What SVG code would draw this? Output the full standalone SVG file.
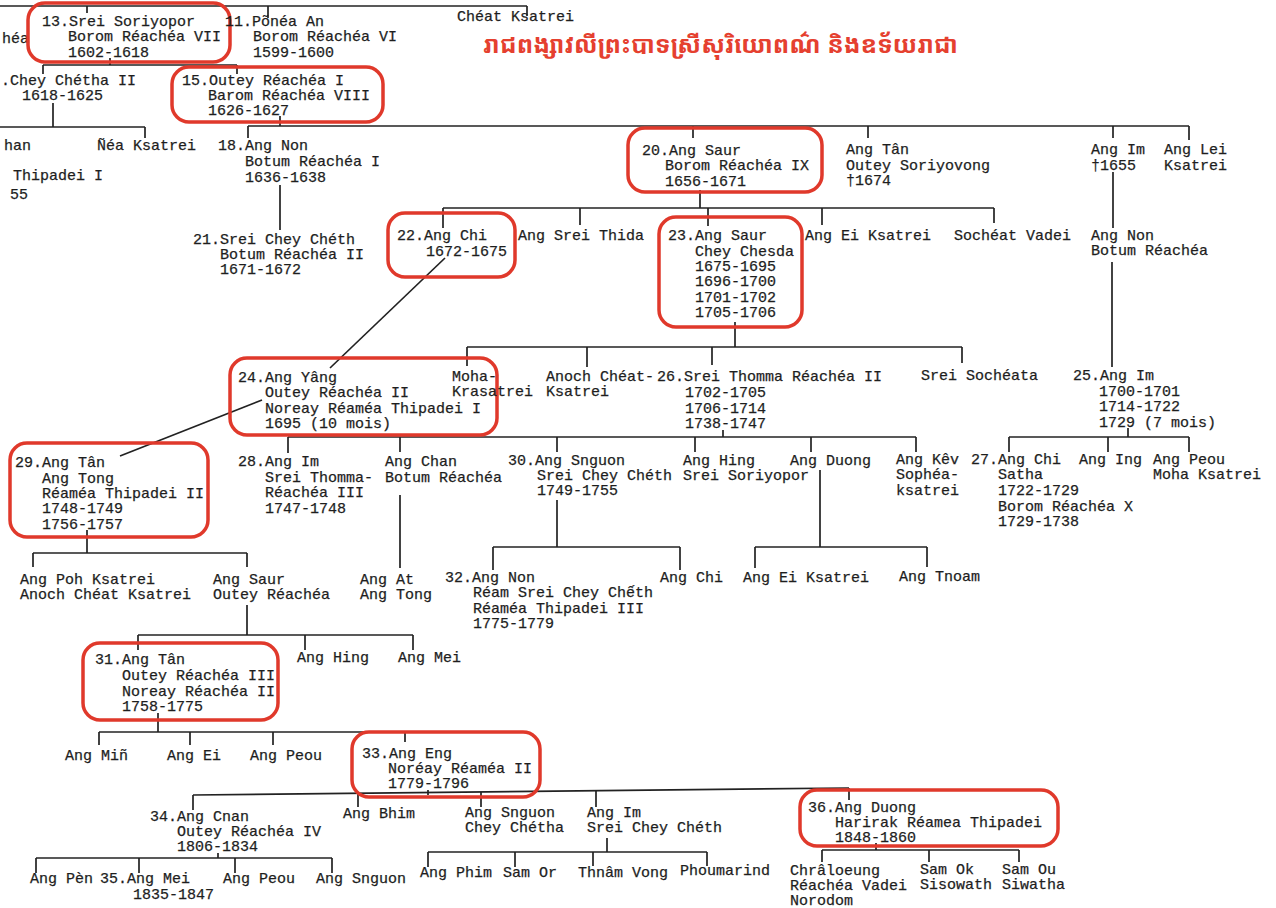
<svg xmlns="http://www.w3.org/2000/svg" width="1276" height="908" viewBox="0 0 1276 908">
<style>
.t{font-family:"Liberation Mono","DejaVu Sans Mono",monospace;font-size:15px;fill:#1e1e1e;stroke:#1e1e1e;stroke-width:0.25}
.b{fill:none;stroke:#e0392b;stroke-width:3.5}
.c line{stroke:#222;stroke-width:1.7}
.title{font-family:"Noto Sans Khmer","Noto Serif Khmer","Khmer OS","Khmer OS System",sans-serif;font-size:24px;fill:#e5402f;font-weight:bold}
</style>
<rect width="1276" height="908" fill="#fff"/>
<g class="c" id="connectors">
<line x1="0" y1="6" x2="527" y2="6"/><line x1="87" y1="6" x2="87" y2="13"/><line x1="268" y1="6" x2="268" y2="18"/><line x1="527" y1="6" x2="527" y2="16"/>
<line x1="110" y1="58" x2="110" y2="65"/><line x1="43" y1="65" x2="237" y2="65"/><line x1="43" y1="65" x2="43" y2="74"/><line x1="237" y1="65" x2="237" y2="74"/>
<line x1="53" y1="103" x2="53" y2="127"/><line x1="0" y1="127" x2="145" y2="127"/><line x1="145" y1="127" x2="145" y2="138"/>
<line x1="280" y1="116" x2="280" y2="126"/><line x1="248" y1="126" x2="1189" y2="126"/><line x1="248" y1="126" x2="248" y2="138"/><line x1="693" y1="126" x2="693" y2="138"/><line x1="868" y1="126" x2="868" y2="138"/><line x1="1113" y1="126" x2="1113" y2="138"/><line x1="1189" y1="126" x2="1189" y2="140"/>
<line x1="280" y1="185" x2="280" y2="230"/>
<line x1="700" y1="190" x2="700" y2="208"/><line x1="443" y1="208" x2="994" y2="208"/><line x1="443" y1="208" x2="443" y2="228"/><line x1="580" y1="208" x2="580" y2="225"/><line x1="708" y1="208" x2="708" y2="226"/><line x1="822" y1="208" x2="822" y2="225"/><line x1="994" y1="208" x2="994" y2="223"/>
<line x1="1113" y1="172" x2="1113" y2="228"/><line x1="1112" y1="262" x2="1112" y2="367"/>
<line x1="445" y1="258" x2="330" y2="368"/>
<line x1="735" y1="322" x2="735" y2="347"/><line x1="467" y1="347" x2="962" y2="347"/><line x1="467" y1="347" x2="467" y2="366"/><line x1="587" y1="347" x2="587" y2="367"/><line x1="712" y1="347" x2="712" y2="365"/><line x1="962" y1="347" x2="962" y2="363"/>
<line x1="262" y1="400" x2="120" y2="456"/>
<line x1="723" y1="430" x2="723" y2="437"/><line x1="288" y1="437" x2="916" y2="437"/><line x1="288" y1="437" x2="288" y2="453"/><line x1="400" y1="437" x2="400" y2="452"/><line x1="557" y1="437" x2="557" y2="452"/><line x1="695" y1="437" x2="695" y2="452"/><line x1="811" y1="437" x2="811" y2="452"/><line x1="916" y1="437" x2="916" y2="452"/>
<line x1="1128" y1="428" x2="1128" y2="437"/><line x1="1009" y1="437" x2="1189" y2="437"/><line x1="1009" y1="437" x2="1009" y2="452"/><line x1="1108" y1="437" x2="1108" y2="452"/><line x1="1189" y1="437" x2="1189" y2="452"/>
<line x1="400" y1="495" x2="400" y2="568"/>
<line x1="557" y1="500" x2="557" y2="547"/><line x1="493" y1="547" x2="680" y2="547"/><line x1="493" y1="547" x2="493" y2="570"/><line x1="680" y1="547" x2="680" y2="570"/>
<line x1="820" y1="470" x2="820" y2="547"/><line x1="755" y1="547" x2="927" y2="547"/><line x1="755" y1="547" x2="755" y2="568"/><line x1="927" y1="547" x2="927" y2="567"/>
<line x1="87" y1="530" x2="87" y2="553"/><line x1="33" y1="553" x2="247" y2="553"/><line x1="33" y1="553" x2="33" y2="567"/><line x1="247" y1="553" x2="247" y2="567"/>
<line x1="247" y1="605" x2="247" y2="635"/><line x1="138" y1="635" x2="413" y2="635"/><line x1="138" y1="635" x2="138" y2="650"/><line x1="305" y1="635" x2="305" y2="650"/><line x1="413" y1="635" x2="413" y2="650"/>
<line x1="158" y1="713" x2="158" y2="732"/><line x1="99" y1="732" x2="405" y2="732"/><line x1="99" y1="732" x2="99" y2="745"/><line x1="190" y1="732" x2="190" y2="745"/><line x1="273" y1="732" x2="273" y2="745"/><line x1="405" y1="732" x2="405" y2="742"/>
<line x1="428" y1="790" x2="428" y2="795"/><line x1="193" y1="795" x2="849" y2="788"/><line x1="193" y1="795" x2="193" y2="810"/><line x1="358" y1="793" x2="358" y2="807"/><line x1="481" y1="792" x2="481" y2="807"/><line x1="596" y1="791" x2="596" y2="807"/><line x1="849" y1="788" x2="849" y2="800"/>
<line x1="218" y1="853" x2="218" y2="858"/><line x1="36" y1="858" x2="332" y2="858"/><line x1="36" y1="858" x2="36" y2="873"/><line x1="139" y1="858" x2="139" y2="873"/><line x1="235" y1="858" x2="235" y2="873"/><line x1="332" y1="858" x2="332" y2="873"/>
<line x1="607" y1="838" x2="607" y2="852"/><line x1="428" y1="852" x2="707" y2="852"/><line x1="428" y1="852" x2="428" y2="867"/><line x1="515" y1="852" x2="515" y2="867"/><line x1="593" y1="852" x2="593" y2="866"/><line x1="707" y1="852" x2="707" y2="866"/>
<line x1="876" y1="843" x2="876" y2="850"/><line x1="822" y1="850" x2="1019" y2="850"/><line x1="822" y1="850" x2="822" y2="862"/><line x1="929" y1="850" x2="929" y2="862"/><line x1="1019" y1="850" x2="1019" y2="862"/>
</g>
<g id="title"><text class="title" x="483" y="53" textLength="475" lengthAdjust="spacingAndGlyphs">រាជពង្សាវលីព្រះបាទស្រីសុរិយោពណ៌ និងឧទ័យរាជា</text></g>
<g id="n_chea"><text class="t" x="2" y="43">héa</text></g>
<g id="n13"><rect class="b" x="28" y="3" width="202" height="59" rx="17"/><text class="t"><tspan x="42" y="26">13.Srei Soriyopor</tspan><tspan x="68" y="41">Borom Réachéa VII</tspan><tspan x="68" y="57">1602-1618</tspan></text></g>
<g id="n11"><text class="t"><tspan x="225" y="26">11.Põnéa An</tspan><tspan x="253" y="41">Borom Réachéa VI</tspan><tspan x="253" y="57">1599-1600</tspan></text></g>
<g id="n_cheat"><text class="t" x="457" y="21">Chéat Ksatrei</text></g>
<g id="n14"><text class="t"><tspan x="1" y="85">.Chey Chétha II</tspan><tspan x="22" y="100">1618-1625</tspan></text></g>
<g id="n15"><rect class="b" x="172" y="67" width="211" height="55" rx="17"/><text class="t"><tspan x="182" y="85">15.Outey Réachéa I</tspan><tspan x="208" y="100">Barom Réachéa VIII</tspan><tspan x="208" y="115">1626-1627</tspan></text></g>
<g id="n_chan"><text class="t" x="4" y="150">han</text></g>
<g id="n_thipadei"><text class="t"><tspan x="13" y="180">Thipadei I</tspan><tspan x="10" y="199">55</tspan></text></g>
<g id="n_nea"><text class="t" x="97" y="150">Ñéa Ksatrei</text></g>
<g id="n18"><text class="t"><tspan x="218" y="150">18.Ang Non</tspan><tspan x="245" y="166">Botum Réachéa I</tspan><tspan x="245" y="182">1636-1638</tspan></text></g>
<g id="n20"><rect class="b" x="628" y="128" width="194" height="64" rx="17"/><text class="t"><tspan x="642" y="155">20.Ang Saur</tspan><tspan x="665" y="170">Borom Réachéa IX</tspan><tspan x="665" y="186">1656-1671</tspan></text></g>
<g id="n_tan1"><text class="t"><tspan x="846" y="154">Ang Tân</tspan><tspan x="846" y="170">Outey Soriyovong</tspan><tspan x="846" y="185">†1674</tspan></text></g>
<g id="n_im1"><text class="t"><tspan x="1091" y="154">Ang Im</tspan><tspan x="1091" y="170">†1655</tspan></text></g>
<g id="n_lei"><text class="t"><tspan x="1164" y="154">Ang Lei</tspan><tspan x="1164" y="170">Ksatrei</tspan></text></g>
<g id="n21"><text class="t"><tspan x="193" y="244">21.Srei Chey Chéth</tspan><tspan x="220" y="259">Botum Réachéa II</tspan><tspan x="220" y="274">1671-1672</tspan></text></g>
<g id="n22"><rect class="b" x="388" y="213" width="127" height="64" rx="17"/><text class="t"><tspan x="397" y="240">22.Ang Chi</tspan><tspan x="426" y="256">1672-1675</tspan></text></g>
<g id="n_thida"><text class="t" x="518" y="240">Ang Srei Thida</text></g>
<g id="n23"><rect class="b" x="659" y="217" width="143" height="110" rx="17"/><text class="t"><tspan x="668" y="240">23.Ang Saur</tspan><tspan x="695" y="256">Chey Chesda</tspan><tspan x="695" y="271">1675-1695</tspan><tspan x="695" y="286">1696-1700</tspan><tspan x="695" y="302">1701-1702</tspan><tspan x="695" y="317">1705-1706</tspan></text></g>
<g id="n_ei1"><text class="t" x="805" y="240">Ang Ei Ksatrei</text></g>
<g id="n_socheat"><text class="t" x="954" y="240">Sochéat Vadei</text></g>
<g id="n_non1"><text class="t"><tspan x="1091" y="240">Ang Non</tspan><tspan x="1091" y="255">Botum Réachéa</tspan></text></g>
<g id="n24"><rect class="b" x="230" y="358" width="267" height="77" rx="17"/><text class="t"><tspan x="238" y="382">24.Ang Yâng</tspan><tspan x="265" y="397">Outey Réachéa II</tspan><tspan x="265" y="413">Noreay Réaméa Thipadei I</tspan><tspan x="265" y="428">1695 (10 mois)</tspan></text></g>
<g id="n_moha"><text class="t"><tspan x="452" y="381">Moha-</tspan><tspan x="452" y="396">Krasatrei</tspan></text></g>
<g id="n_anoch1"><text class="t"><tspan x="546" y="381">Anoch Chéat-</tspan><tspan x="546" y="396">Ksatrei</tspan></text></g>
<g id="n26"><text class="t"><tspan x="657" y="381">26.Srei Thomma Réachéa II</tspan><tspan x="685" y="397">1702-1705</tspan><tspan x="685" y="413">1706-1714</tspan><tspan x="685" y="428">1738-1747</tspan></text></g>
<g id="n_sochea"><text class="t" x="921" y="380">Srei Sochéata</text></g>
<g id="n25"><text class="t"><tspan x="1073" y="380">25.Ang Im</tspan><tspan x="1099" y="396">1700-1701</tspan><tspan x="1099" y="411">1714-1722</tspan><tspan x="1099" y="427">1729 (7 mois)</tspan></text></g>
<g id="n29"><rect class="b" x="10" y="443" width="198" height="94" rx="17"/><text class="t"><tspan x="15" y="467">29.Ang Tân</tspan><tspan x="42" y="483">Ang Tong</tspan><tspan x="42" y="498">Réaméa Thipadei II</tspan><tspan x="42" y="513">1748-1749</tspan><tspan x="42" y="529">1756-1757</tspan></text></g>
<g id="n28"><text class="t"><tspan x="238" y="466">28.Ang Im</tspan><tspan x="265" y="482">Srei Thomma-</tspan><tspan x="265" y="497">Réachéa III</tspan><tspan x="265" y="513">1747-1748</tspan></text></g>
<g id="n_chan2"><text class="t"><tspan x="385" y="466">Ang Chan</tspan><tspan x="385" y="482">Botum Réachéa</tspan></text></g>
<g id="n30"><text class="t"><tspan x="508" y="465">30.Ang Snguon</tspan><tspan x="537" y="480">Srei Chey Chéth</tspan><tspan x="537" y="495">1749-1755</tspan></text></g>
<g id="n_hing1"><text class="t"><tspan x="683" y="465">Ang Hing</tspan><tspan x="683" y="480">Srei Soriyopor</tspan></text></g>
<g id="n_duong1"><text class="t" x="790" y="465">Ang Duong</text></g>
<g id="n_kev"><text class="t"><tspan x="896" y="464">Ang Kêv</tspan><tspan x="896" y="479">Sophéa-</tspan><tspan x="896" y="495">ksatrei</tspan></text></g>
<g id="n27"><text class="t"><tspan x="971" y="464">27.Ang Chi</tspan><tspan x="998" y="479">Satha</tspan><tspan x="998" y="495">1722-1729</tspan><tspan x="998" y="511">Borom Réachéa X</tspan><tspan x="998" y="526">1729-1738</tspan></text></g>
<g id="n_ing"><text class="t" x="1079" y="464">Ang Ing</text></g>
<g id="n_peou1"><text class="t"><tspan x="1153" y="464">Ang Peou</tspan><tspan x="1153" y="479">Moha Ksatrei</tspan></text></g>
<g id="n_poh"><text class="t"><tspan x="20" y="584">Ang Poh Ksatrei</tspan><tspan x="20" y="599">Anoch Chéat Ksatrei</tspan></text></g>
<g id="n_saur3"><text class="t"><tspan x="213" y="584">Ang Saur</tspan><tspan x="213" y="599">Outey Réachéa</tspan></text></g>
<g id="n_at"><text class="t"><tspan x="360" y="584">Ang At</tspan><tspan x="360" y="599">Ang Tong</tspan></text></g>
<g id="n32"><text class="t"><tspan x="445" y="582">32.Ang Non</tspan><tspan x="473" y="597">Réam Srei Chey Chếth</tspan><tspan x="473" y="613">Réaméa Thipadei III</tspan><tspan x="473" y="628">1775-1779</tspan></text></g>
<g id="n_chi2"><text class="t" x="660" y="582">Ang Chi</text></g>
<g id="n_ei2"><text class="t" x="743" y="582">Ang Ei Ksatrei</text></g>
<g id="n_tnoam"><text class="t" x="899" y="581">Ang Tnoam</text></g>
<g id="n31"><rect class="b" x="83" y="643" width="195" height="77" rx="17"/><text class="t"><tspan x="95" y="664">31.Ang Tân</tspan><tspan x="122" y="680">Outey Réachéa III</tspan><tspan x="122" y="696">Noreay Réachéa II</tspan><tspan x="122" y="711">1758-1775</tspan></text></g>
<g id="n_hing2"><text class="t" x="297" y="662">Ang Hing</text></g>
<g id="n_mei1"><text class="t" x="398" y="662">Ang Mei</text></g>
<g id="n_min"><text class="t" x="65" y="760">Ang Miñ</text></g>
<g id="n_ei3"><text class="t" x="167" y="760">Ang Ei</text></g>
<g id="n_peou2"><text class="t" x="250" y="760">Ang Peou</text></g>
<g id="n33"><rect class="b" x="352" y="732" width="188" height="65" rx="17"/><text class="t"><tspan x="362" y="758">33.Ang Eng</tspan><tspan x="388" y="773">Noréay Réaméa II</tspan><tspan x="388" y="788">1779-1796</tspan></text></g>
<g id="n34"><text class="t"><tspan x="150" y="821">34.Ang Cnan</tspan><tspan x="177" y="836">Outey Réachéa IV</tspan><tspan x="177" y="851">1806-1834</tspan></text></g>
<g id="n_bhim"><text class="t" x="343" y="818">Ang Bhim</text></g>
<g id="n_snguon2"><text class="t"><tspan x="465" y="817">Ang Snguon</tspan><tspan x="465" y="832">Chey Chétha</tspan></text></g>
<g id="n_im3"><text class="t"><tspan x="587" y="817">Ang Im</tspan><tspan x="587" y="832">Srei Chey Chéth</tspan></text></g>
<g id="n36"><rect class="b" x="800" y="790" width="258" height="56" rx="17"/><text class="t"><tspan x="808" y="812">36.Ang Duong</tspan><tspan x="835" y="827">Harirak Réamea Thipadei</tspan><tspan x="835" y="842">1848-1860</tspan></text></g>
<g id="n_pen"><text class="t" x="30" y="883">Ang Pèn</text></g>
<g id="n35"><text class="t"><tspan x="100" y="883">35.Ang Mei</tspan><tspan x="133" y="899">1835-1847</tspan></text></g>
<g id="n_peou3"><text class="t" x="223" y="883">Ang Peou</text></g>
<g id="n_snguon3"><text class="t" x="316" y="883">Ang Snguon</text></g>
<g id="n_phim"><text class="t" x="420" y="877">Ang Phim</text></g>
<g id="n_samor"><text class="t" x="503" y="877">Sam Or</text></g>
<g id="n_thnam"><text class="t" x="578" y="877">Thnâm Vong</text></g>
<g id="n_phou"><text class="t" x="680" y="875">Phoumarind</text></g>
<g id="n_chra"><text class="t"><tspan x="790" y="875">Chrâloeung</tspan><tspan x="790" y="890">Réachéa Vadei</tspan><tspan x="790" y="905">Norodom</tspan></text></g>
<g id="n_samok"><text class="t"><tspan x="920" y="874">Sam Ok</tspan><tspan x="920" y="889">Sisowath</tspan></text></g>
<g id="n_samou"><text class="t"><tspan x="1002" y="874">Sam Ou</tspan><tspan x="1002" y="889">Siwatha</tspan></text></g>
</svg>
